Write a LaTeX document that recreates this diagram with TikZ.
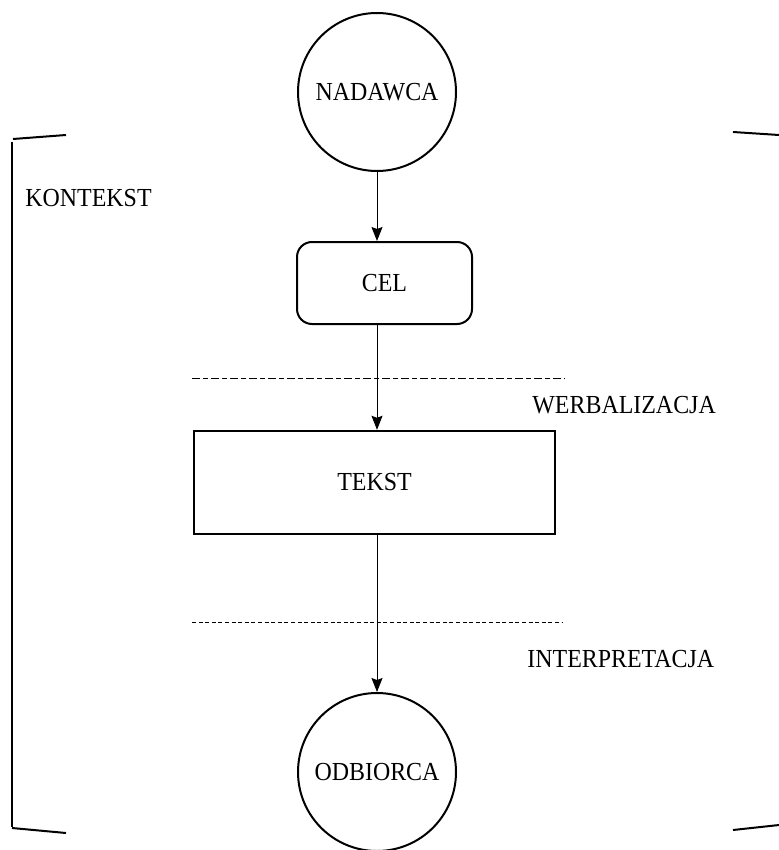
\documentclass[tikz,border=0pt]{standalone}
\usepackage{fontspec}
\setmainfont[FakeStretch=0.92]{Liberation Serif}
\usetikzlibrary{arrows.meta}

\begin{document}
\begin{tikzpicture}[x=0.5pt, y=-0.5pt,
        party/.style = {draw, circle, line width=1pt, minimum size=79pt, inner sep=0pt},
        flow/.style = {-{Stealth[length=7pt, width=5.5pt, inset=1pt]}, line width=0.5pt},
        bracket/.style = {line width=1pt},
        label/.style = {anchor=west, inner sep=0pt},
        every node/.style = {font=\fontsize{13}{15}\selectfont}]
        \useasboundingbox (0,0) rectangle (779,850);

        %Nadawca
        \node [party]
        (nad)at(377,92){NADAWCA};
        %Cel
        \node [draw, rounded corners=7.5pt, line width=1pt, minimum width=87.5pt, minimum height=41pt]
        (cel)at(384.5,283){CEL};
        %Tekst
        \node [draw, line width=1.2pt, minimum width=180.5pt, minimum height=51.5pt]
        (tekst)at(374.5,482.5){TEKST};
        %Odbiorca
        \node [party]
        (odb)at(377,772){ODBIORCA};

        %Labels
        \node [label]
        (kont)at(25,198){KONTEKST};
        \node [label]
        (werb)at(532,405){WERBALIZACJA};
        \node [label]
        (inter)at(527,659){INTERPRETACJA};

        %Dashed lines
        \draw [line width=0.5pt, dash pattern=on 4pt off 1.5pt on 2.5pt off 1.5pt](192,378)--(565,378);
        \draw [line width=0.5pt, dash pattern=on 2pt off 1.3pt](192,622)--(563,622);

        %Brackets
        \draw [bracket](13,139)--(66,135);
        \draw [bracket](12,142)--(12,827);
        \draw [bracket](12,828)--(66,833);
        \draw [bracket](733,132)--(779,135);
        \draw [bracket](733,830)--(779,825);

        \draw [flow](nad)--(nad |- cel.north);
        \draw [flow](nad |- cel.south)--(nad |- tekst.north);
        \draw [flow](nad |- tekst.south)--(odb);

    \end{tikzpicture}
\end{document}
